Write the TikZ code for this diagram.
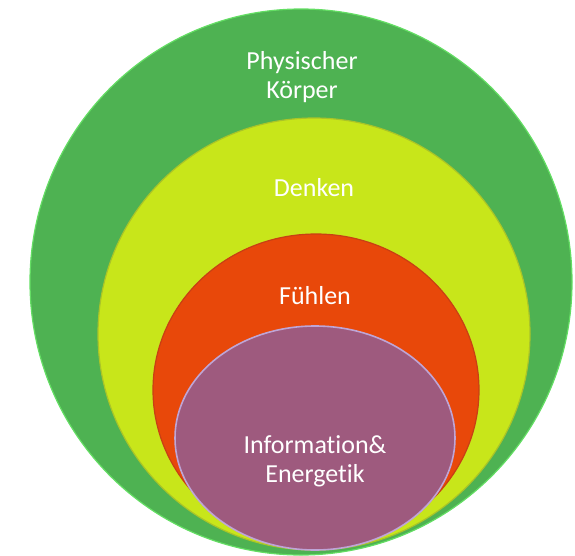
\documentclass[tikz,border=0pt]{standalone}
\usepackage{fontspec}
\setmainfont{Carlito}[Ligatures=NoCommon]
\usepackage{xcolor}
\definecolor{body}{RGB}{78,178,82}
\definecolor{bodyrim}{RGB}{100,222,100}
\definecolor{mind}{RGB}{200,230,26}
\definecolor{mindrim}{RGB}{170,196,40}
\definecolor{feel}{RGB}{232,72,10}
\definecolor{feelrim}{RGB}{200,64,20}
\definecolor{energy}{RGB}{158,90,126}
\definecolor{energyrim}{RGB}{190,165,215}

\begin{document}
\begin{tikzpicture}[
    x=1pt, y=-1pt,
    layer/.style={line width=1.2pt},
    label/.style={text=white, align=center, font=\fontsize{26}{29}\selectfont}
]
\useasboundingbox (0,0) rectangle (575,555);

% Physischer Koerper
\fill[layer, fill=body, draw=bodyrim] (301,282) ellipse [x radius=271, y radius=273];
\node[label] (koerper) at (302,77) {Physischer\\Körper};

% Denken
\fill[layer, fill=mind, draw=mindrim] (314,334) ellipse [x radius=216, y radius=216];
\node[label] (denken) at (314,188) {Denken};

% Fuehlen
\fill[layer, fill=feel, draw=feelrim] (316,390) ellipse [x radius=163, y radius=156];
\node[label] (fuehlen) at (315,296) {Fühlen};

% Information & Energetik
\fill[layer, line width=1.6pt, fill=energy, draw=energyrim] (315,438) ellipse [x radius=140, y radius=112];
\node[label] (energetik) at (315,461) {Information\&\\Energetik};

\end{tikzpicture}
\end{document}
